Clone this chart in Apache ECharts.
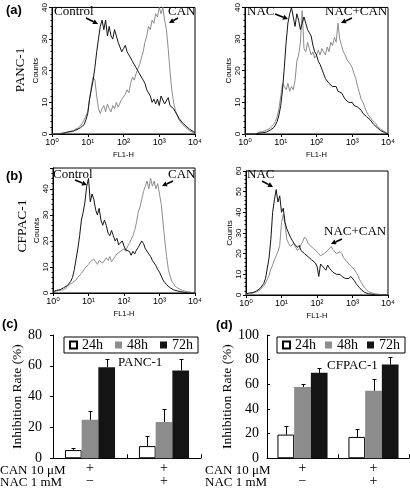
<!DOCTYPE html>
<html><head><meta charset="utf-8">
<script src="https://cdn.jsdelivr.net/npm/echarts@6/dist/echarts.min.js"></script>
<style>html,body{margin:0;padding:0;background:#fff}#c{width:410px;height:488px}</style>
</head><body><div id="c"></div>
<script>
// FL1-H channel positions (log10 of FL1-H)
const FL1_EXP = [0,0.05,0.1,0.15,0.2,0.25,0.3,0.35,0.4,0.45,0.5,0.55,0.6,0.65,0.7,0.75,0.8,0.85,0.9,0.95,
1,1.05,1.1,1.15,1.2,1.25,1.3,1.35,1.4,1.45,1.5,1.55,1.6,1.65,1.7,1.75,1.8,1.85,1.9,1.95,
2,2.05,2.1,2.15,2.2,2.25,2.3,2.35,2.4,2.45,2.5,2.55,2.6,2.65,2.7,2.75,2.8,2.85,2.9,2.95,
3,3.05,3.1,3.15,3.2,3.25,3.3,3.35,3.4,3.45,3.5,3.55,3.6,3.65,3.7,3.75,3.8,3.85,3.9,3.95,4];
const X_TICK_SUP = ['\u2070','\u00b9','\u00b2','\u00b3','\u2074'];

// (a) PANC-1
const PANC_CONTROL = [0,0,0,0,0,0,0,0.3,0.5,0.4, 0.8,0.6,1.0,0.8,1.4,1.2,2.0,2.3,3.0,4.5, 6.5,11,14,17,21,26,30,34,36,33, 36,31,34,31,30,33,31,29,29.5,26, 27,28,26,25,25.5,23,22,21,20,19, 18.5,17,16,14,13,12,10,11,9.5,11, 9,12,12.5,9.5,10,11.5,9,8.5,8,7, 6,5,4.5,3.5,3,2.5,2,1.5,1,0.8, 0.5];
const PANC_CAN = [0,0,0,0,0,0,0.5,0.8,0.5,1, 0.6,1.2,0.8,1.5,1.2,2,2.5,3.5,4.5,5, 7,11,15,18,17,12,8,6.5,8,9, 7,9.5,8,7,9,8,10,8.5,9,11, 10.5,12.5,14,13,16,18,17,19,20.5,22, 24,26,29,31,34,33,36,35,38,37, 40,38,40,36,33,27,20,14,10,7.5, 6,4.5,4,3,2.5,2,1.5,1,0.8,0.5, 0.3];
const PANC_NAC = [0,0,0,0,0,0,0,0,0.3,0.5, 0.4,0.8,0.6,1.0,1.2,1.4,2.0,2.8,4.0,6, 9,14,21,29,35,38,40,37,34,38, 36,33,35,37,35,33,32,31,28,26, 25,23,22,20.5,19,17.5,17,16,16.5,15, 14.5,15,13.5,14,13,12.5,11,11.5,10,10.5, 10,9,9.5,8.5,8,7.5,6.5,6,5.5,5, 4.5,4,3,2.4,2,1.4,1,0.8,0.5,0.3, 0];
const PANC_NACCAN = [0,0,0,0,0,0,0,0.3,0.6,0.5, 0.8,1,1.2,1.5,1.8,2.2,3,4,5.5,8, 12,16,15,14,16,13.5,15,14,17,23, 25,29,39,27,26,29,27,25,26,24, 25,26.5,25,27,26,25,27.5,26,29,28, 30.5,29,35,30,28,26,25,23.5,23,22, 21,19,17.5,15,13,11,10,8.5,7,6, 5.5,4.5,4,3.5,2.5,2,1.5,1.2,0.8,0.4, 0];

// (b) CFPAC-1
const CFPAC_CONTROL = [0.5,0.6,1.0,0.8,1.3,1.5,2,2.3,2.8,3.5, 4.5,6,9,13,17,22,28,31,35,41, 44,35,38,36,32,30,32.5,28,26,28, 26,23,22,24,22,20,21,18.5,19,20, 18,16.5,17,16,14.5,16,15,16.5,17.5,18, 20,19,17,16.5,15,14,12.5,11.5,10.5,9, 8,6.5,5,4,3.2,2.5,2,1.5,1.2,1, 0.8,0.6,0.5,0.4,0.3,0.2,0,0,0,0, 0];
const CFPAC_CAN = [0.5,1,0.8,1.2,1,1.5,1.3,1.8,2.2,3, 3.5,4,4.5,5,6,6.5,7.5,8,9.5,10, 11,12,11.5,13,12,11,12.5,13,11.5,12, 13.5,12.5,14,12,13,14,15,14.5,16,15.5, 17,16,18,19,20.5,22,24,27,31,33, 36,39,41,43,40,44,41,43,40,42, 38,34,27,20,14,9,6.5,4.5,3.5,2.5, 2,1.6,1.2,1,0.8,0.6,0.5,0.4,0.2,0, 0];
const CFPAC_NAC = [0.5,0.8,1,0.8,1.2,1.6,2,2.5,3.2,4, 5.6,8,13,18,27,40,46,51,45,48, 40,42,35,32,30,28,26.5,25,24.5,23, 24,21.5,22,20,20.5,18.5,19,17,16.5,15.5, 14,9,15,15.5,13,12,14.5,13,12,11, 10.5,10,9.5,10,9,8.5,8,7.5,8,9, 8.5,7,5.5,4.5,3.5,2.5,1.8,1.2,0.8,0.6, 0.5,0.4,0.3,0,0,0,0,0,0,0, 0];
const CFPAC_NACCAN = [0.3,0.5,0.4,0.8,1,1.2,1.5,2,2.5,3.2, 4.5,5.8,7.5,9.5,12.5,14.5,17,19,21,24, 35,39,34,27,25,23.5,24,25,23,21.5, 22.5,23,26,28,27,25,24,23.5,22.5,23, 21,20,19,18.5,20,19.5,21.5,22,23.5,22, 21.5,20,19.5,21,20,18,17,16,15.5,14, 13.5,12.5,11,9.5,7.5,6,4.5,3.2,2.4,1.6, 1.2,1,0.8,0.6,0.4,0.3,0,0,0,0, 0];

// (c)/(d) inhibition rate
const GROUPS = ['CAN', 'CAN+NAC'];
const ROW_CAN = ['+', '+'];
const ROW_NAC = ['\u2212', '+'];
const TIMES = ['24h', '48h', '72h'];
const PANC1_24 = [5.3, 7.9],  PANC1_48 = [25.0, 23.5], PANC1_72 = [59.1, 57.0];
const PANC1_24_ERR = [1.1, 6.6], PANC1_48_ERR = [5.9, 8.5], PANC1_72_ERR = [5.3, 7.4];
const CFPAC1_24 = [19.2, 17.3], CFPAC1_48 = [57.9, 54.7], CFPAC1_72 = [69.3, 76.0];
const CFPAC1_24_ERR = [6.7, 6.7], CFPAC1_48_ERR = [2.1, 9.3], CFPAC1_72_ERR = [4.0, 6.1];

const SANS = '"Liberation Sans", "DejaVu Sans", Arial, sans-serif';
const SERIF = '"Liberation Serif", "Times New Roman", serif';
const BLACK = '#141414', GRAY = '#8c8c8c';
const BAR_W = 16.7;

const chart = echarts.init(document.getElementById('c'), null, {renderer: 'canvas'});

const grids = [
  {left: 52, top: 5, width: 143, height: 129},
  {left: 245, top: 5, width: 143, height: 129},
  {left: 53, top: 168, width: 142, height: 125},
  {left: 246, top: 171, width: 142, height: 124},
  {left: 53, top: 335, width: 148, height: 125},
  {left: 267, top: 335, width: 142, height: 125}
].map((g, i) => Object.assign(g, i < 4 ? {show: true, borderColor: '#000', borderWidth: 1, backgroundColor: 'transparent'} : {show: false}));

function histX(gi) {
  return {type: 'log', logBase: 10, gridIndex: gi, min: 1, max: 10000,
    name: 'FL1-H', nameLocation: 'middle', nameGap: 17,
    nameTextStyle: {fontSize: 7.5, fontFamily: SANS, color: '#000'},
    axisLine: {show: true, onZero: false, lineStyle: {color: '#000', width: 1}},
    axisTick: {show: true, length: 3, lineStyle: {color: '#000'}},
    splitLine: {show: false}, minorTick: {show: false},
    axisLabel: {fontSize: 9, fontFamily: SANS, color: '#000', margin: 4,
      formatter: v => '10' + X_TICK_SUP[Math.round(Math.log10(v))]}};
}
function histY(gi, max) {
  return {type: 'value', gridIndex: gi, min: 0, max: max, interval: 10,
    name: 'Counts', nameLocation: 'middle', nameGap: 12,
    nameTextStyle: {fontSize: 8, fontFamily: SANS, color: '#000'},
    axisLine: {show: true, onZero: false, lineStyle: {color: '#000', width: 1}},
    axisTick: {show: true, length: 3, lineStyle: {color: '#000'}},
    minorTick: {show: true, splitNumber: 5, length: 1.5, lineStyle: {color: '#000'}},
    splitLine: {show: false},
    axisLabel: {rotate: 90, fontSize: 8, fontFamily: SANS, color: '#000', margin: 3,
      formatter: v => (v % 10 === 0 ? String(v) : '')}};
}
function barX(gi) {
  return {type: 'category', gridIndex: gi, data: GROUPS,
    axisLine: {show: true, onZero: false, lineStyle: {color: '#000', width: 1}},
    axisTick: {show: true, inside: true, length: 4, lineStyle: {color: '#000'}},
    axisLabel: {fontSize: 14, lineHeight: 12.5, fontFamily: SERIF, color: '#000', margin: 4,
      formatter: (v, i) => ROW_CAN[i] + '\n' + ROW_NAC[i]}};
}
function barY(gi, max, inside, margin, gap) {
  return {type: 'value', gridIndex: gi, min: 0, max: max, interval: 20,
    name: 'Inhibition Rate (%)', nameLocation: 'middle', nameGap: gap,
    nameTextStyle: {fontSize: 13.5, fontFamily: SERIF, color: '#000'},
    axisLine: {show: true, onZero: false, lineStyle: {color: '#000', width: 1}},
    axisTick: {show: true, inside: inside, length: 3, lineStyle: {color: '#000'}},
    splitLine: {show: false},
    axisLabel: {fontSize: 14, fontFamily: SERIF, color: '#000', margin: margin}};
}

function hist(name, arr, gi, color, z) {
  return {type: 'line', name: name, xAxisIndex: gi, yAxisIndex: gi,
    data: FL1_EXP.map((e, i) => [Math.pow(10, e), arr[i]]),
    showSymbol: false, symbol: 'none', silent: true, z: z,
    lineStyle: {color: color, width: 1}, itemStyle: {color: color}};
}

const BAR_STYLES = [
  {color: '#ffffff', borderColor: '#000', borderWidth: 1},
  {color: GRAY, borderWidth: 0},
  {color: BLACK, borderWidth: 0}
];
function bars(gi, vals, errs) {
  const out = vals.map((v, k) => ({type: 'bar', name: TIMES[k], xAxisIndex: gi, yAxisIndex: gi,
    data: v, barWidth: BAR_W, barGap: '0%', itemStyle: BAR_STYLES[k], silent: true}));
  const errData = [];
  vals.forEach((v, k) => v.forEach((val, ci) => errData.push([ci, val, errs[k][ci], k])));
  out.push({type: 'custom', name: 'err' + gi, xAxisIndex: gi, yAxisIndex: gi, z: 5, silent: true,
    data: errData,
    renderItem: function (params, api) {
      const ci = api.value(0), v = api.value(1), e = api.value(2), k = api.value(3);
      const p0 = api.coord([ci, v]);
      const p1 = api.coord([ci, v + e]);
      const x = Math.round(p0[0] + (k - 1) * BAR_W) + 0.5;
      const yt = Math.round(p1[1]) + 0.5;
      return {type: 'group', children: [
        {type: 'line', shape: {x1: x, y1: p0[1], x2: x, y2: yt}, style: {stroke: '#000', lineWidth: 1}},
        {type: 'line', shape: {x1: x - 2, y1: yt, x2: x + 2, y2: yt}, style: {stroke: '#000', lineWidth: 1}}
      ]};
    }});
  return out;
}

function txt(x, y, text, font, opts) {
  return Object.assign({type: 'text', x: x, y: y, silent: true,
    style: Object.assign({text: text, font: font, fill: '#000', align: 'left', verticalAlign: 'middle'}, (opts && opts.style) || {})},
    (opts && opts.el) || {});
}
function arrow(x1, y1, x2, y2) {
  const dx = x2 - x1, dy = y2 - y1, L = Math.hypot(dx, dy), ux = dx / L, uy = dy / L, h = 5, w = 2.6;
  const bx = x2 - ux * h, by = y2 - uy * h;
  return [
    {type: 'line', silent: true, shape: {x1: x1, y1: y1, x2: bx, y2: by}, style: {stroke: '#000', lineWidth: 1.6}},
    {type: 'polygon', silent: true, shape: {points: [[x2, y2], [bx - uy * w, by + ux * w], [bx + uy * w, by - ux * w]]}, style: {fill: '#000'}}
  ];
}

const F_ANN = '13px ' + SERIF;
const F_PANEL = 'bold 13px ' + SANS;
const graphics = [
  txt(6, 10, '(a)', F_PANEL), txt(6, 176, '(b)', F_PANEL), txt(2, 324, '(c)', F_PANEL), txt(216, 325, '(d)', F_PANEL),
  txt(21, 70, 'PANC-1', '13px ' + SERIF, {style: {align: 'center'}, el: {rotation: Math.PI / 2}}),
  txt(22, 226, 'CFPAC-1', '13.5px ' + SERIF, {style: {align: 'center'}, el: {rotation: Math.PI / 2}}),
  txt(54, 12, 'Control', F_ANN), txt(168, 12, 'CAN', F_ANN),
  txt(247, 12, 'NAC', F_ANN), txt(325, 12, 'NAC+CAN', F_ANN),
  txt(53, 175, 'Control', F_ANN), txt(168, 175, 'CAN', F_ANN),
  txt(247, 175, 'NAC', F_ANN), txt(324, 232, 'NAC+CAN', F_ANN),
  ...arrow(86, 18, 98, 24), ...arrow(178, 18, 169, 23),
  ...arrow(275, 14, 288, 19), ...arrow(352, 18, 341, 23),
  ...arrow(75, 180, 87, 185), ...arrow(173, 181, 162, 186),
  ...arrow(262, 181, 273, 187), ...arrow(342, 239, 331, 244),
  txt(118, 363, 'PANC-1', F_ANN), txt(327, 366, 'CFPAC-1', F_ANN),
  txt(0, 471, 'CAN 10 \u03bcM', F_ANN), txt(0, 483, 'NAC 1 mM', F_ANN),
  txt(205, 471, 'CAN 10 \u03bcM', F_ANN), txt(205, 483, 'NAC 1 mM', F_ANN)
];

const legendBase = {data: TIMES, icon: 'rect', itemWidth: 7, itemHeight: 7, orient: 'horizontal',
  padding: [1, 5], borderColor: '#000', borderWidth: 1, backgroundColor: '#fff', selectedMode: false,
  textStyle: {fontFamily: SERIF, fontSize: 14, color: '#000'}};

chart.setOption({
  animation: false,
  textStyle: {fontFamily: SANS},
  grid: grids,
  xAxis: [histX(0), histX(1), histX(2), histX(3), barX(4), barX(5)],
  yAxis: [histY(0, 40), histY(1, 40), histY(2, 48), histY(3, 60),
          barY(4, 80, false, 11, 25), barY(5, 100, true, 8, 28)],
  legend: [
    Object.assign({}, legendBase, {left: 64, top: 337, itemGap: 12}),
    Object.assign({}, legendBase, {left: 277, top: 337, itemGap: 9})
  ],
  series: [
    hist('PANC CAN', PANC_CAN, 0, GRAY, 2), hist('PANC Control', PANC_CONTROL, 0, BLACK, 3),
    hist('PANC NAC+CAN', PANC_NACCAN, 1, GRAY, 2), hist('PANC NAC', PANC_NAC, 1, BLACK, 3),
    hist('CFPAC CAN', CFPAC_CAN, 2, GRAY, 2), hist('CFPAC Control', CFPAC_CONTROL, 2, BLACK, 3),
    hist('CFPAC NAC+CAN', CFPAC_NACCAN, 3, GRAY, 2), hist('CFPAC NAC', CFPAC_NAC, 3, BLACK, 3),
    ...bars(4, [PANC1_24, PANC1_48, PANC1_72], [PANC1_24_ERR, PANC1_48_ERR, PANC1_72_ERR]),
    ...bars(5, [CFPAC1_24, CFPAC1_48, CFPAC1_72], [CFPAC1_24_ERR, CFPAC1_48_ERR, CFPAC1_72_ERR])
  ],
  graphic: graphics
});
</script>
</body></html>
